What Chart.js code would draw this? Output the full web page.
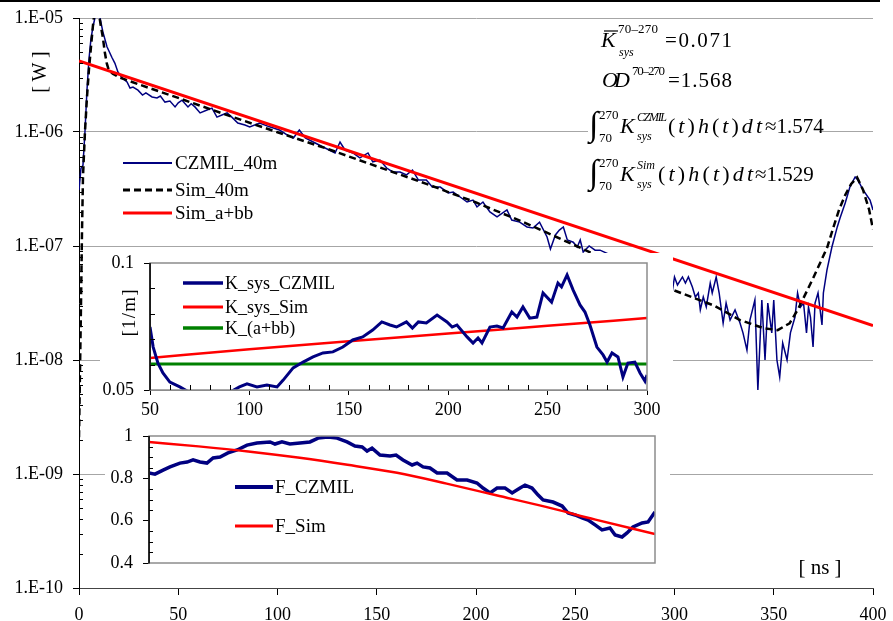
<!DOCTYPE html>
<html><head><meta charset="utf-8">
<script src="https://cdn.jsdelivr.net/npm/chart.js@4.4.0/dist/chart.umd.min.js"></script>
<style>
html,body{margin:0;padding:0;background:#fff;}
#wrap{position:relative;width:893px;height:621px;overflow:hidden;background:#fff;}
canvas{position:absolute;left:0;top:0;}
.box{position:absolute;background:#fff;}
svg{position:absolute;left:0;top:0;}
</style></head><body>
<div id="wrap">
<canvas id="main" width="893" height="621"></canvas>
<div class="box" style="left:100px;top:253px;width:573px;height:167px"><canvas id="kc" width="573" height="167"></canvas></div>
<div class="box" style="left:105px;top:420px;width:565px;height:150px"><canvas id="fc" width="565" height="150"></canvas></div>
<svg width="893" height="621" font-family="'Liberation Serif','Times New Roman',serif" fill="#000">
<rect x="0" y="0" width="880" height="2" fill="#000"/>
<text transform="translate(46,72) rotate(-90)" text-anchor="middle" font-size="20">[ W ]</text>
<text x="820" y="574" text-anchor="middle" font-size="21">[ ns ]</text>
<text transform="translate(135,313) rotate(-90)" text-anchor="middle" font-size="19" textLength="47">[1/m]</text>
<!-- main legend -->
<line x1="123" y1="163" x2="172" y2="163" stroke="#000080" stroke-width="2"/>
<text x="175" y="169" font-size="19">CZMIL_40m</text>
<line x1="123" y1="190" x2="172" y2="190" stroke="#000" stroke-width="3" stroke-dasharray="7 4"/>
<text x="175" y="196" font-size="19">Sim_40m</text>
<line x1="123" y1="213" x2="172" y2="213" stroke="#ff0000" stroke-width="3"/>
<text x="175" y="219" font-size="19">Sim_a+bb</text>
<!-- K legend -->
<line x1="183" y1="283" x2="223" y2="283" stroke="#000080" stroke-width="3.5"/>
<text x="225" y="289" font-size="18">K_sys_CZMIL</text>
<line x1="183" y1="307" x2="223" y2="307" stroke="#ff0000" stroke-width="3"/>
<text x="225" y="313" font-size="18">K_sys_Sim</text>
<line x1="183" y1="328" x2="223" y2="328" stroke="#008000" stroke-width="3.5"/>
<text x="225" y="334" font-size="18">K_(a+bb)</text>
<!-- F legend -->
<line x1="235" y1="487" x2="273" y2="487" stroke="#000080" stroke-width="4"/>
<text x="275" y="493" font-size="19">F_CZMIL</text>
<line x1="235" y1="526" x2="273" y2="526" stroke="#ff0000" stroke-width="3"/>
<text x="275" y="532" font-size="19">F_Sim</text>
<!-- formulas -->
<text x="601" y="47" font-size="22" font-style="italic">K</text>
<line x1="604" y1="31" x2="618" y2="31" stroke="#000" stroke-width="1.2"/>
<text x="618" y="33" font-size="13" textLength="40">70–270</text>
<text x="619" y="56" font-size="12" font-style="italic">sys</text>
<text x="665" y="47" font-size="21" textLength="67">=0.071</text>
<text x="602" y="87" font-size="22" font-style="italic" textLength="28">OD</text>
<text x="632" y="75" font-size="13" textLength="33">70–270</text>
<text x="668" y="87" font-size="21" textLength="64">=1.568</text>
<rect x="588" y="108" width="231" height="38" fill="#fff"/>
<text x="589" y="135" font-size="34">∫</text>
<text x="599" y="119" font-size="13">270</text>
<text x="599" y="142" font-size="13">70</text>
<text x="620" y="133" font-size="22" font-style="italic">K</text>
<text x="637" y="121" font-size="12" font-style="italic" textLength="30">CZMIL</text>
<text x="637" y="140" font-size="12" font-style="italic">sys</text>
<text x="668" y="133" font-size="22" textLength="94">(<tspan font-style="italic">t</tspan>)<tspan font-style="italic">h</tspan>(<tspan font-style="italic">t</tspan>)<tspan font-style="italic">dt</tspan></text>
<text x="765" y="133" font-size="21">≈1.574</text>
<text x="589" y="183" font-size="34">∫</text>
<text x="599" y="167" font-size="13">270</text>
<text x="599" y="190" font-size="13">70</text>
<text x="620" y="181" font-size="22" font-style="italic">K</text>
<text x="637" y="169" font-size="12" font-style="italic" textLength="18">Sim</text>
<text x="637" y="188" font-size="12" font-style="italic">sys</text>
<text x="658" y="181" font-size="22" textLength="95">(<tspan font-style="italic">t</tspan>)<tspan font-style="italic">h</tspan>(<tspan font-style="italic">t</tspan>)<tspan font-style="italic">dt</tspan></text>
<text x="755" y="181" font-size="21">≈1.529</text>
</svg>
</div>
<script>
// ---------- main chart data ----------
const mainXTicks = [0,50,100,150,200,250,300,350,400];
const mainYTicks = [1e-10,1e-9,1e-8,1e-7,1e-6,1e-5];
const tCzmil = [0,1,2,3,4,5,6,7,8,9,10,10.6,12,14.1,16.6,18.1,19.6,21.7,24.2,25.7,27.2,29.7,32,33.7,36.8,39.3,41,43.3,45.8,48.4,50,51.9,54.9,56.5,58.4,61,64.5,67,69.5,72,74.6,77,80,83.6,86,91,96,101,105,108,111,114,118,121,126,129,131.5,134,138,141.5,145.6,148,151.6,155,158,161.7,165,168,171,175,178,182,186,188.5,192,195.5,198.5,200.5,203.5,207,210.6,215.6,218,222,225.7,228.7,232,235.8,237.5,240,242,244,246,249,251,252.5,254,257,260,262.5,270,280,290,299,300,301.5,304,305.5,307,309,310.5,312,313,314.5,316,318,319,321,322.5,324.5,326,328,330.5,333,334.5,336.5,338,340.5,342,344,345.6,347,349,350,351.6,353,354.5,356.7,358.4,360.7,362,363.5,365,366.5,367.5,368.5,369.8,370.8,372.3,374.3,375,376.8,379.3,382,383.4,386,388.4,391,392.4,395,398.5,400];
const wCzmil = [3.1e-7,4.8e-7,5.1e-7,1.0e-6,2.3e-6,4.3e-6,6.5e-6,8.3e-6,1.0e-5,1.3e-5,1.2e-5,1.0e-5,7.6e-6,5.6e-6,4.5e-6,4.0e-6,3.36e-6,2.98e-6,2.75e-6,2.43e-6,2.48e-6,2.33e-6,2.11e-6,2.2e-6,2.03e-6,1.99e-6,2.07e-6,1.83e-6,1.87e-6,1.66e-6,1.8e-6,1.9e-6,1.66e-6,1.77e-6,1.66e-6,1.47e-6,1.56e-6,1.62e-6,1.35e-6,1.41e-6,1.47e-6,1.35e-6,1.2e-6,1.15e-6,1.11e-6,1.2e-6,1.11e-6,1.04e-6,9.4e-7,8.86e-7,1.04e-6,8.86e-7,8.17e-7,7.69e-7,6.95e-7,6.55e-7,8.17e-7,6.95e-7,6.55e-7,5.92e-7,6.55e-7,5.46e-7,5.68e-7,4.83e-7,4.46e-7,4.46e-7,4.2e-7,4.64e-7,3.79e-7,3.79e-7,3.29e-7,3.29e-7,2.92e-7,2.98e-7,2.69e-7,2.43e-7,2.53e-7,2.2e-7,2.43e-7,1.99e-7,1.8e-7,2.07e-7,1.69e-7,1.62e-7,1.47e-7,1.44e-7,1.62e-7,1.2e-7,9.4e-8,1.25e-7,1.38e-7,1.47e-7,1.13e-7,1.08e-7,9.8e-8,1.13e-7,8.85e-8,1.0e-7,9.2e-8,9.2e-8,8.0e-8,6.5e-8,5.2e-8,4.11e-8,5.35e-8,4.55e-8,5.35e-8,4.73e-8,5.35e-8,4.37e-8,3.57e-8,3.87e-8,2.75e-8,3.57e-8,2.92e-8,4.73e-8,3.87e-8,5.35e-8,3.87e-8,2.11e-8,3.16e-8,2.24e-8,2.75e-8,2.11e-8,1.73e-8,1.22e-8,2.24e-8,3.36e-8,5.46e-9,3.36e-8,1.0e-8,3.16e-8,1.73e-8,3.36e-8,1.0e-8,7.1e-9,1.41e-8,1.0e-8,1.73e-8,2.38e-8,3.87e-8,2.92e-8,3.16e-8,1.73e-8,2.92e-8,2.38e-8,1.3e-8,3.16e-8,3.87e-8,2.03e-8,3.87e-8,6.15e-8,9.8e-8,1.47e-7,1.76e-7,2.38e-7,3.3e-7,4.03e-7,3.79e-7,3.1e-7,2.53e-7,2.07e-7];
const tSim = [0,0.5,1,1.5,2,3,4,5,6,7,8,9,10,11,12,13,14,15,17,20,30,50,75,100,125,150,175,200,225,250,275,300,320,333,345,352,358,362,366,370,374,377,380,383,386,389,392,395,398,400];
const wSim = [2.1e-9,8e-9,3e-8,1.3e-7,4e-7,1.0e-6,2.0e-6,3.5e-6,5.5e-6,8.5e-6,1.2e-5,1.35e-5,1.1e-5,8.5e-6,6.8e-6,5.0e-6,4.0e-6,3.5e-6,3.25e-6,3.03e-6,2.62e-6,1.99e-6,1.40e-6,9.95e-7,7.13e-7,5.0e-7,3.51e-7,2.41e-7,1.59e-7,1.01e-7,6.4e-8,4.07e-8,3.0e-8,2.24e-8,1.9e-8,1.83e-8,2.1e-8,2.75e-8,3.8e-8,5.3e-8,7.5e-8,9.8e-8,1.45e-7,2.1e-7,2.8e-7,3.5e-7,4.0e-7,3.1e-7,2.1e-7,1.4e-7];
const tAbb = [0,400];
const wAbb = [4.2e-6,2.0e-8];
// ---------- K inset data ----------
const kXTicks = [50,100,150,200,250,300];
const kYTicks = [0.05,0.1];
const tK = [50,51.6,54,56.5,60,65,70,75,80,85,91,95,98.8,103.8,108.8,113.9,117,122,127,132,137,142,147,152,157,162,166.6,170.7,174,179,182,185,189,194.4,199.4,202,204.4,209.5,212.5,215,217,221,224.5,227.6,232,234.6,237.6,241,244.6,247.7,252,255.2,257,259.8,262.8,266.3,268.8,271.3,274.8,277.9,279.9,282.4,285.4,287.9,290.4,293.9,296.5,299,300];
const kCzmil = [0.0748,0.0669,0.0606,0.0567,0.0531,0.0512,0.049,0.0475,0.047,0.0478,0.0495,0.0512,0.0524,0.0512,0.052,0.0512,0.0539,0.0587,0.061,0.063,0.0646,0.065,0.0669,0.0697,0.0709,0.0736,0.0768,0.0756,0.0748,0.0768,0.0744,0.0768,0.0764,0.0795,0.0768,0.0748,0.0756,0.0709,0.0685,0.0705,0.0685,0.0748,0.0752,0.0744,0.0807,0.0787,0.0827,0.0783,0.0787,0.0882,0.0846,0.0921,0.0906,0.0953,0.0894,0.0835,0.0807,0.0756,0.0669,0.0638,0.061,0.0646,0.063,0.0551,0.0606,0.061,0.0567,0.0535,0.0559];
const tKSim = [50,100,150,200,250,300];
const kSim = [0.0626,0.0660,0.0692,0.0722,0.0753,0.0783];
const tKabb = [50,300];
const kAbb = [0.0602,0.0602];
// ---------- F inset data ----------
const fYTicks = [0.4,0.6,0.8,1];
const tF = [35,38,42.1,45.6,50.6,54.2,57.2,60.7,64.2,67.3,70.8,74.8,79.4,84.4,89.4,96,98.5,102,106,111.1,116.1,120.2,125.2,129.8,134.8,138.8,142.4,144.9,147.4,151.4,156.5,159.5,163,167.6,170.1,173.1,176.6,180.2,185.2,190.2,195.3,200.3,203.3,206.9,210.4,214.4,218,222,224.5,228,231.1,233.6,238.6,243.2,246.2,249.7,253.2,256.3,259.8,263.3,267.3,269.9,273.4,275.9,278.9,283.5,286.5,290];
const fCzmil = [0.825,0.82,0.839,0.854,0.872,0.877,0.887,0.877,0.872,0.896,0.901,0.92,0.934,0.957,0.967,0.972,0.962,0.972,0.962,0.967,0.972,0.99,0.995,0.99,0.972,0.953,0.948,0.929,0.943,0.91,0.906,0.91,0.887,0.863,0.872,0.854,0.849,0.825,0.825,0.792,0.792,0.778,0.754,0.731,0.754,0.754,0.731,0.754,0.768,0.754,0.721,0.698,0.688,0.669,0.636,0.627,0.613,0.603,0.58,0.556,0.565,0.532,0.523,0.542,0.57,0.589,0.594,0.641];
const tFSim = [35,60,85,110,135,160,185,210,235,260,290];
const fSim = [0.972,0.951,0.927,0.898,0.864,0.826,0.775,0.72,0.665,0.605,0.537];

const pts = (xs, ys) => xs.map((x, i) => ({x, y: ys[i]}));
const FONT = "'Liberation Serif','Times New Roman',serif";
const noPadY = w => s => { s.width = w; s.paddingTop = 0; s.paddingBottom = 0; };
const noPadX = h => s => { s.height = h; s.paddingLeft = 0; s.paddingRight = 0; };

const deco = {
  id: 'deco',
  afterDraw(chart, args, o) {
    const {ctx, chartArea: a, scales} = chart;
    ctx.save();
    const ln = (x1, y1, x2, y2) => { ctx.beginPath(); ctx.moveTo(x1, y1); ctx.lineTo(x2, y2); ctx.stroke(); };
    if (o.frame) {
      ctx.strokeStyle = o.frame; ctx.lineWidth = 1.5;
      ctx.strokeRect(a.left, a.top, a.right - a.left, a.bottom - a.top);
      ctx.strokeStyle = '#000'; ctx.lineWidth = 1.5;
      ln(a.left, a.top, a.left, a.bottom);
    }
    ctx.strokeStyle = '#000'; ctx.lineWidth = 1;
    (o.yMinor || []).forEach(v => {
      const y = Math.round(scales.y.getPixelForValue(v)) + 0.5;
      ln(a.left, y, a.left + o.yLen, y);
    });
    (o.xMinor || []).forEach(v => {
      const x = Math.round(scales.x.getPixelForValue(v)) + 0.5;
      ln(x, a.bottom, x, a.bottom - o.xLen);
    });
    ctx.restore();
  }
};

const mainMinor = [];
[1e-10,1e-9,1e-8,1e-7,1e-6].forEach(d => { for (let m = 2; m <= 9; m++) mainMinor.push(m * d); });

new Chart(document.getElementById('main'), {
  type: 'line',
  data: { datasets: [
    {label:'Sim_a+bb', data: pts(tAbb, wAbb), borderColor:'#ff0000', borderWidth:3, pointRadius:0, order:0},
    {label:'Sim_40m', data: pts(tSim, wSim), borderColor:'#000', borderWidth:2.5, borderDash:[7,4], pointRadius:0, order:1},
    {label:'CZMIL_40m', data: pts(tCzmil, wCzmil), borderColor:'#000080', borderWidth:1.5, pointRadius:0, order:2}
  ]},
  options: {
    responsive:false, animation:false, devicePixelRatio:1,
    layout:{padding:{top:18, right:20, left:0, bottom:0}},
    plugins:{legend:{display:false}, tooltip:{enabled:false}, deco:{yMinor: mainMinor, yLen:4}},
    scales:{
      x:{type:'linear', min:0, max:400, afterFit: noPadX(33),
         afterBuildTicks: s => { s.ticks = mainXTicks.map(v => ({value:v})); },
         ticks:{font:{family:FONT, size:18}, color:'#000', padding:9, maxRotation:0, autoSkip:false},
         grid:{drawOnChartArea:false, tickLength:7, tickColor:'#000'}, border:{color:'#444', width:1}},
      y:{type:'logarithmic', min:1e-10, max:1e-5, afterFit: noPadY(79),
         afterBuildTicks: s => { s.ticks = mainYTicks.map(v => ({value:v})); },
         ticks:{font:{family:FONT, size:18}, color:'#000', padding:10, autoSkip:false,
           callback: v => { const e = Math.round(Math.log10(v)); return '1.E-' + String(-e).padStart(2, '0'); }},
         grid:{color:'#a6a6a6', tickColor:'#000', tickLength:6}, border:{color:'#000', width:1}}
    }
  },
  plugins:[deco]
});

const kXMinor = [];
for (let v = 60; v < 300; v += 10) if (v % 50) kXMinor.push(v);
new Chart(document.getElementById('kc'), {
  type: 'line',
  data: { datasets: [
    {label:'K_sys_CZMIL', data: pts(tK, kCzmil), borderColor:'#000080', borderWidth:3, pointRadius:0, order:0},
    {label:'K_sys_Sim', data: pts(tKSim, kSim), borderColor:'#ff0000', borderWidth:2.5, pointRadius:0, cubicInterpolationMode:'monotone', order:1},
    {label:'K_(a+bb)', data: pts(tKabb, kAbb), borderColor:'#008000', borderWidth:3, pointRadius:0, order:2}
  ]},
  options: {
    responsive:false, animation:false, devicePixelRatio:1,
    layout:{padding:{top:10, right:26, left:0, bottom:0}},
    plugins:{legend:{display:false}, tooltip:{enabled:false}, deco:{frame:'#8c8c8c', yMinor:[0.06,0.07,0.08,0.09], yLen:5, xMinor:kXMinor, xLen:5}},
    scales:{
      x:{type:'linear', min:50, max:300, afterFit: noPadX(30),
         afterBuildTicks: s => { s.ticks = kXTicks.map(v => ({value:v})); },
         ticks:{font:{family:FONT, size:18}, color:'#000', padding:4, maxRotation:0, autoSkip:false},
         grid:{drawOnChartArea:false, tickLength:5, tickColor:'#000'}, border:{color:'#8c8c8c'}},
      y:{type:'linear', min:0.05, max:0.1, afterFit: noPadY(50),
         afterBuildTicks: s => { s.ticks = kYTicks.map(v => ({value:v})); },
         ticks:{font:{family:FONT, size:18}, color:'#000', padding:10, callback: v => String(+v.toFixed(2))},
         grid:{drawOnChartArea:false, tickLength:6, tickColor:'#000'}, border:{color:'#000'}}
    }
  },
  plugins:[deco]
});

new Chart(document.getElementById('fc'), {
  type: 'line',
  data: { datasets: [
    {label:'F_Sim', data: pts(tFSim, fSim), borderColor:'#ff0000', borderWidth:2.5, pointRadius:0, cubicInterpolationMode:'monotone', order:0},
    {label:'F_CZMIL', data: pts(tF, fCzmil), borderColor:'#000080', borderWidth:3.5, pointRadius:0, order:1}
  ]},
  options: {
    responsive:false, animation:false, devicePixelRatio:1,
    layout:{padding:{top:16, right:15, left:0, bottom:7}},
    plugins:{legend:{display:false}, tooltip:{enabled:false}, deco:{frame:'#8c8c8c', yMinor:[0.45,0.5,0.55,0.65,0.7,0.75,0.85,0.9,0.95], yLen:4}},
    scales:{
      x:{type:'linear', min:35, max:290, display:false},
      y:{type:'linear', min:0.4, max:1, afterFit: noPadY(44),
         afterBuildTicks: s => { s.ticks = fYTicks.map(v => ({value:v})); },
         ticks:{font:{family:FONT, size:18}, color:'#000', padding:10, callback: v => String(+v.toFixed(1))},
         grid:{drawOnChartArea:false, tickLength:6, tickColor:'#000'}, border:{color:'#000'}}
    }
  },
  plugins:[deco]
});
</script>
</body></html>
